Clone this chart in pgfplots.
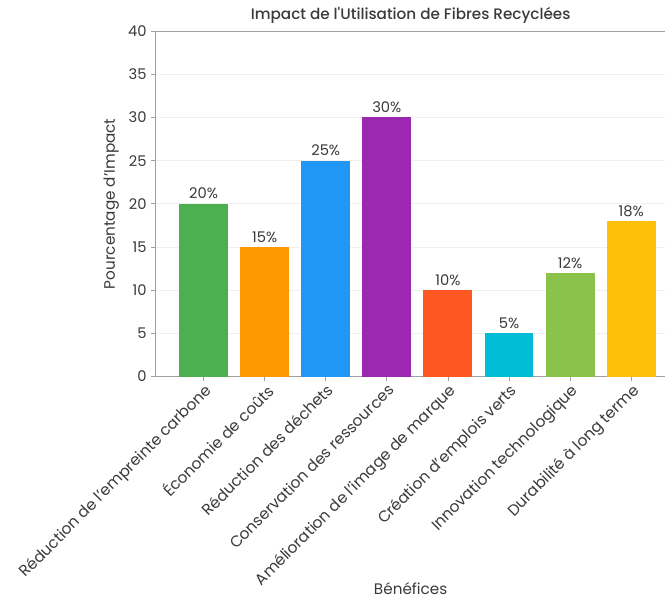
\documentclass[border=0pt]{standalone}
\usepackage{pgfplots}
\pgfplotsset{compat=1.18}
\usepackage{fontspec}
\setmainfont{Poppins}
\newfontfamily\titlefont{Poppins Medium}

\definecolor{cA}{HTML}{4CAF50}
\definecolor{cB}{HTML}{FF9800}
\definecolor{cC}{HTML}{2196F3}
\definecolor{cD}{HTML}{9C27B0}
\definecolor{cE}{HTML}{FF5722}
\definecolor{cF}{HTML}{00BCD4}
\definecolor{cG}{HTML}{8BC34A}
\definecolor{cH}{HTML}{FFC107}
\definecolor{txt}{HTML}{3A3A3A}
\definecolor{spine}{HTML}{A0A0A0}

\begin{document}
\begin{tikzpicture}
\begin{axis}[
  name=ax,
  scale only axis,
  width=382.5pt, height=258.75pt,
  xmin=-0.79, xmax=7.57,
  ymin=0, ymax=40,
  ytick={0,5,...,40},
  xtick={0,...,7},
  xticklabels={
    Réduction de l'empreinte carbone,
    Économie de coûts,
    Réduction des déchets,
    Conservation des ressources,
    Amélioration de l'image de marque,
    Création d'emplois verts,
    Innovation technologique,
    Durabilité à long terme},
  x tick label style={rotate=45, anchor=north east, inner sep=1pt, font=\fontsize{11.6}{13}\selectfont, text=txt},
  y tick label style={font=\fontsize{11}{13}\selectfont, text=txt},
  /pgf/number format/assume math mode=true,
  axis lines*=left,
  axis line style={spine, line width=0.8pt},
  tick style={spine, line width=0.6pt},
  tick align=outside,
  major tick length=3pt,
  ymajorgrids,
  grid style={gray!12, line width=0.6pt},
  title={\titlefont Impact de l'Utilisation de Fibres Recyclées},
  title style={font=\fontsize{11.4}{13}\selectfont, text=txt,
    at={(axis description cs:0.5,1)}, anchor=center},
  every axis title shift=12pt,
  xlabel={Bénéfices},
  xlabel style={at={(axis description cs:0.5,0)}, anchor=center, yshift=-159pt},
  ylabel={Pourcentage d'Impact},
  label style={font=\fontsize{11.4}{13}\selectfont, text=txt},
  ybar, bar width=0.8, bar shift=0pt,
  nodes near coords={\pgfmathprintnumber{\pgfplotspointmeta}\%},
  nodes near coords style={font=\fontsize{11}{13}\selectfont, text=txt},
  clip=false,
]
\draw[spine, line width=0.8pt] (rel axis cs:0,1) -- (rel axis cs:1,1);
\addplot[fill=cA, draw=none] coordinates {(0,20)};
\addplot[fill=cB, draw=none] coordinates {(1,15)};
\addplot[fill=cC, draw=none] coordinates {(2,25)};
\addplot[fill=cD, draw=none] coordinates {(3,30)};
\addplot[fill=cE, draw=none] coordinates {(4,10)};
\addplot[fill=cF, draw=none] coordinates {(5,5)};
\addplot[fill=cG, draw=none] coordinates {(6,12)};
\addplot[fill=cH, draw=none] coordinates {(7,18)};
\end{axis}
\pgfresetboundingbox
\path[use as bounding box] ([xshift=-116.25pt, yshift=-168.75pt]ax.south west)
  rectangle ([xshift=-0.8pt, yshift=23.25pt]ax.north east);
\end{tikzpicture}
\end{document}
